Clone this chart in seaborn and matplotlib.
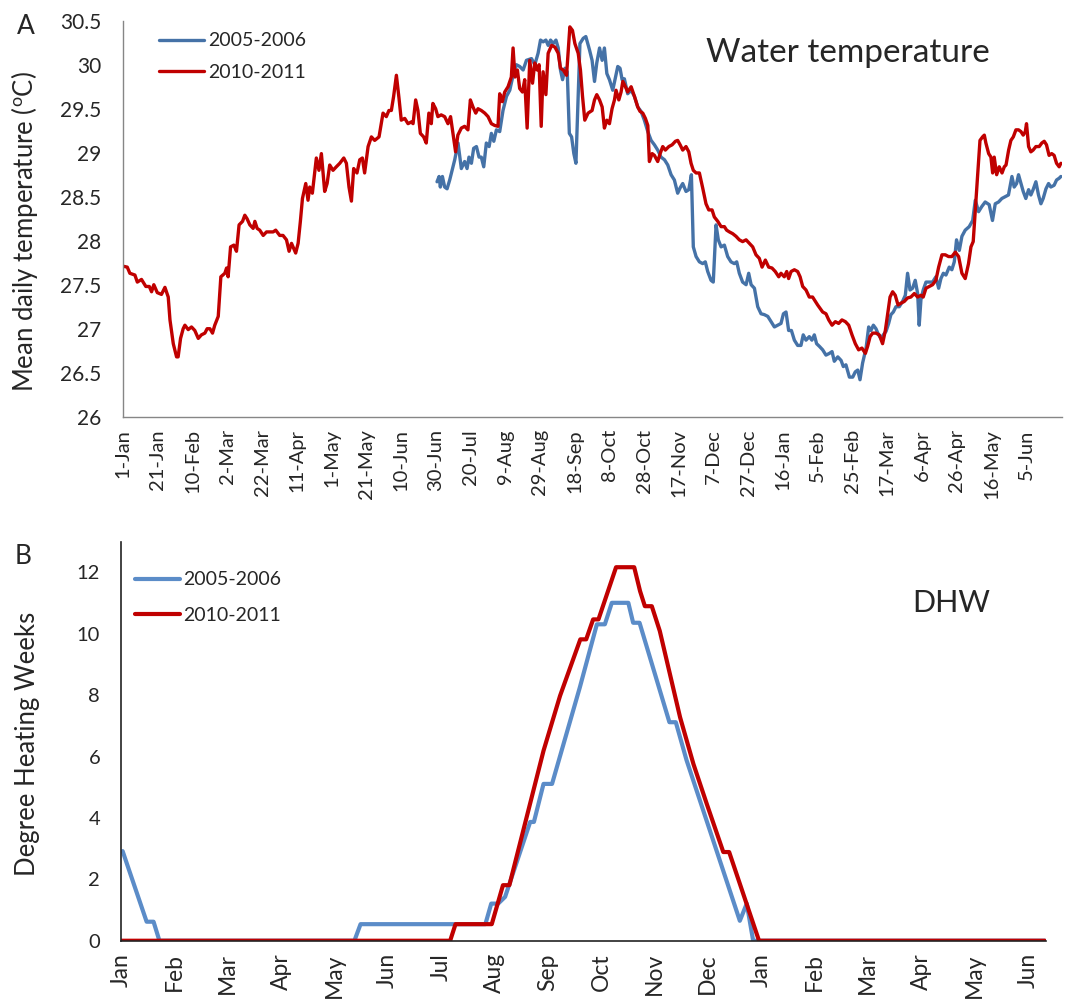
import matplotlib
matplotlib.use('Agg')
import matplotlib.pyplot as plt
import pandas as pd
import seaborn as sns

# Panel A: mean daily water temperature, x = days from 1-Jan
red_day = [0, 2.3, 3.8, 6.7, 8.1, 10.5, 13, 15, 16.3, 17.6, 19.6, 22, 24, 25.9, 26.9, 28.8, 30.7, 31.6,
           33, 34.5, 35.5, 37.4, 39.3, 41.2, 43.2, 45, 47, 48.3, 49.9, 51.4, 52.7, 54.7, 56.2, 58.5,
           59.5, 60.4, 61.8, 63.7, 65.2, 66.7, 68.7, 70, 71.3, 72.9, 74.8, 75.8, 77.1, 78.6, 80.6,
           82.5, 84.4, 86.3, 87.8, 90.1, 92, 94, 95.5, 96.9, 99.3, 100.7, 102, 103.2, 105.1, 106.4,
           107.4, 108.9, 111.2, 112.7, 114.1, 116, 117.4, 118.9, 120.8, 122.7, 124.7, 127, 128.5,
           130, 131.4, 132.7, 134.6, 136.2, 137.7, 139, 141, 142.9, 144.8, 147.3, 149.6, 151.5, 153,
           154.4, 155.7, 157.3, 158.8, 160.1, 162.1, 164, 165.9, 166.9, 168.4, 169.7, 171.1, 173,
           174.5, 176, 177.4, 178.3, 179.9, 181.2, 183.1, 185.1, 187, 188.5, 189.9, 191.4, 192.7,
           194.7, 196.6, 198.5, 199.9, 201.4, 203, 204.3, 206.2, 208.2, 210.1, 212, 213.9, 215.8,
           216.8, 218.3, 219.7, 221.6, 223.5, 224.5, 225.6, 227, 228.3, 229.9, 231.2, 232.6, 234.1,
           235.7, 237, 238.4, 239.5, 240.7, 241.8, 243.4, 244.7, 246.7, 248.6, 250.5, 251.8, 253.4,
           255.3, 257.2, 258.7, 260.1, 262, 263.3, 264.5, 265.8, 267.7, 270, 271.4, 272.7, 274.3,
           275.8, 277.1, 278.5, 280, 281.5, 282.9, 283.8, 285.4, 286.7, 287.7, 289.2, 290.5, 292.5,
           294.4, 296.3, 297.6, 299.2, 300.7, 302.1, 303, 304.6, 305.9, 307.8, 309.2, 310.7, 312.2,
           314.2, 316.1, 318, 319.3, 320.7, 322.2, 324.1, 325.7, 327, 328.3, 329.9, 331.8, 333.7,
           335.6, 337.2, 339.1, 340.4, 342.4, 344.3, 346.2, 347.5, 349.1, 351, 352.9, 354.8, 356.7,
           358.7, 360.6, 362.5, 364.4, 366.3, 367.9, 369.8, 371.7, 373.6, 375.5, 377.5, 378.8,
           380.7, 382.1, 383.2, 384.6, 386.5, 388.4, 389.8, 391.3, 393.2, 395.1, 397, 398.6, 399.9,
           402.8, 404.7, 406.3, 408.2, 410.1, 412, 413.9, 415.9, 417.8, 419.7, 421.6, 423.5, 425.4,
           427.4, 428.7, 430.1, 431.6, 433.5, 435.4, 437.3, 438.9, 440.2, 441.6, 443.1, 444.6,
           446.2, 447.9, 449.8, 451.7, 453.6, 455.6, 457.5, 459.4, 460.7, 462.3, 464.2, 466.1, 468,
           469.6, 471.5, 473.4, 475.3, 477.2, 479.2, 481.1, 483, 484.9, 486.8, 488.2, 489.5, 490.7,
           492, 493.4, 494.9, 495.9, 496.8, 498.4, 499.7, 500.7, 501.6, 503, 504.5, 506.1, 507.4,
           508.4, 509.9, 511.2, 512.6, 514.1, 515.6, 517, 518.3, 519.5, 520.2, 521.4, 522.7, 524,
           525.6, 527.5, 529, 530.4, 531.7, 533.2, 534.7, 536.1, 537.5, 539, 540]
red_temp = [27.71, 27.70, 27.63, 27.61, 27.53, 27.56, 27.48, 27.48, 27.42, 27.50, 27.41, 27.39, 27.47,
            27.36, 27.10, 26.83, 26.68, 26.68, 26.89, 27.00, 27.04, 26.99, 27.02, 26.98, 26.89,
            26.93, 26.95, 27.00, 27.00, 26.95, 27.04, 27.14, 27.59, 27.63, 27.69, 27.59, 27.93,
            27.95, 27.88, 28.18, 28.22, 28.29, 28.25, 28.18, 28.14, 28.22, 28.14, 28.12, 28.06,
            28.10, 28.10, 28.10, 28.12, 28.06, 28.06, 28.01, 27.88, 27.97, 27.86, 27.97, 28.22,
            28.48, 28.65, 28.46, 28.61, 28.54, 28.94, 28.80, 28.99, 28.56, 28.65, 28.86, 28.80,
            28.84, 28.88, 28.94, 28.88, 28.61, 28.45, 28.82, 28.77, 28.92, 28.94, 28.77, 29.07,
            29.18, 29.14, 29.18, 29.45, 29.41, 29.48, 29.48, 29.64, 29.88, 29.62, 29.37, 29.39,
            29.33, 29.35, 29.33, 29.60, 29.48, 29.22, 29.18, 29.11, 29.45, 29.33, 29.56, 29.50,
            29.41, 29.43, 29.41, 29.33, 29.41, 29.22, 29.01, 29.20, 29.28, 29.30, 29.26, 29.60,
            29.52, 29.45, 29.50, 29.48, 29.45, 29.41, 29.33, 29.31, 29.30, 29.67, 29.58, 29.69,
            29.75, 29.86, 30.19, 29.86, 29.94, 29.73, 29.69, 29.83, 29.28, 30.05, 29.79, 30.02,
            29.94, 30.00, 29.30, 29.92, 29.66, 30.13, 30.22, 30.20, 30.13, 29.96, 29.94, 29.88,
            30.43, 30.39, 30.24, 30.13, 29.94, 29.64, 29.37, 29.45, 29.48, 29.60, 29.66, 29.60,
            29.52, 29.28, 29.37, 29.33, 29.50, 29.60, 29.71, 29.60, 29.69, 29.81, 29.75, 29.69,
            29.75, 29.64, 29.52, 29.47, 29.45, 29.39, 29.31, 28.90, 28.99, 28.97, 28.90, 28.99,
            29.07, 29.03, 29.07, 29.09, 29.13, 29.14, 29.09, 29.03, 29.07, 29.01, 28.88, 28.80,
            28.77, 28.77, 28.60, 28.42, 28.35, 28.35, 28.27, 28.22, 28.16, 28.16, 28.12, 28.10,
            28.08, 28.05, 28.01, 27.99, 28.01, 27.97, 27.93, 27.84, 27.80, 27.70, 27.78, 27.70,
            27.69, 27.65, 27.59, 27.63, 27.59, 27.65, 27.57, 27.65, 27.67, 27.65, 27.59, 27.48,
            27.44, 27.36, 27.36, 27.31, 27.27, 27.19, 27.17, 27.10, 27.04, 27.08, 27.06, 27.10,
            27.08, 27.04, 26.93, 26.83, 26.76, 26.78, 26.72, 26.80, 26.91, 26.95, 26.95, 26.93,
            26.83, 26.98, 27.16, 27.36, 27.42, 27.38, 27.27, 27.29, 27.31, 27.35, 27.36, 27.40,
            27.36, 27.38, 27.36, 27.46, 27.48, 27.50, 27.55, 27.70, 27.84, 27.84, 27.82, 27.82,
            27.87, 27.82, 27.63, 27.57, 27.74, 27.93, 27.99, 28.35, 28.73, 29.14, 29.18, 29.20,
            29.11, 28.99, 28.95, 28.77, 28.95, 28.75, 28.84, 28.77, 28.84, 28.86, 29.03, 29.14,
            29.18, 29.26, 29.26, 29.24, 29.20, 29.24, 29.33, 29.07, 29.01, 29.03, 29.07, 29.07,
            29.11, 29.13, 29.09, 28.97, 28.99, 28.97, 28.88, 28.84, 28.88]

blue_day = [180.7, 181.9, 182.6, 183.8, 185.1, 186.5, 188, 189, 190.9, 192.8, 194.7, 196.6, 198,
            199.1, 200.5, 201.8, 203.4, 204.9, 206.2, 207.6, 209.1, 210.7, 212, 213.4, 214.9,
            216.8, 218.7, 220.7, 222.6, 224.5, 226.4, 228.3, 230.3, 232.2, 235.1, 237, 238.9,
            240.3, 241.8, 243.4, 244.7, 246.1, 247.6, 249.2, 250.5, 251.8, 253, 254.4, 255.7,
            256.9, 258.2, 259.5, 260.7, 262, 263, 264.9, 266.4, 268.5, 270, 271.4, 272.7, 274.3,
            275.8, 277.1, 278.5, 280, 281.9, 283.5, 284.8, 286.1, 287.3, 288.6, 290.5, 292.5,
            294.4, 296.3, 298.2, 300.1, 302.1, 304, 305.9, 307.8, 309.7, 311.7, 313.6, 315.5,
            317.4, 319.3, 320.7, 322.2, 324.1, 325.7, 327.2, 328.3, 329.9, 331.8, 333.7, 335.2,
            336.6, 338.5, 339.8, 341.4, 342.7, 344.3, 346.2, 348.1, 350, 351.9, 353.3, 354.8,
            356.7, 358.7, 360.2, 361.6, 363.5, 365.4, 367.3, 369.2, 371.2, 373.1, 375, 376.9,
            378.8, 380.2, 381.7, 383.2, 384.8, 386.5, 388.4, 390.3, 391.6, 393.2, 395.1, 396.6,
            398, 399.3, 400.9, 402.8, 404.7, 406.7, 408.2, 409.5, 411.5, 413.4, 414.7, 416.2,
            418.2, 420.1, 421.6, 423, 424.3, 425.8, 427.8, 429.3, 430.6, 432, 433.5, 435, 436.4,
            437.7, 439.3, 440.8, 442.1, 443.5, 445, 446.9, 448.8, 450.4, 451.7, 453.1, 454.6,
            456.1, 457.5, 458.4, 459.4, 460.7, 462.3, 464.2, 466.1, 468, 469.6, 470.9, 472.3,
            473.8, 475.7, 477.2, 478.6, 479.9, 481.5, 483, 484.9, 487.2, 489.2, 490.7, 492.6,
            494.5, 496.4, 498.7, 500.6, 502.2, 504.1, 506, 507.9, 509.8, 511.8, 513.1, 514.5,
            515.6, 517, 518.3, 519.8, 521.4, 522.7, 524, 525.6, 527.1, 528.5, 529.8, 531.4,
            532.9, 534.2, 536.1, 537.5, 539, 540]
blue_temp = [28.67, 28.73, 28.61, 28.73, 28.61, 28.59, 28.69, 28.77, 28.92, 29.11, 28.82, 28.90,
             28.82, 28.95, 28.88, 29.05, 29.07, 28.95, 28.95, 28.84, 29.11, 29.07, 29.22, 29.13,
             29.26, 29.24, 29.48, 29.64, 29.71, 29.88, 30.00, 29.98, 29.94, 30.05, 30.07, 30.00,
             30.13, 30.28, 30.26, 30.28, 30.22, 30.28, 30.24, 30.28, 30.19, 29.94, 29.83, 29.96,
             29.92, 29.22, 29.18, 28.99, 28.88, 29.64, 30.24, 30.30, 30.32, 30.17, 30.05, 29.81,
             30.02, 30.19, 30.05, 30.19, 29.90, 29.83, 29.71, 29.86, 29.98, 29.96, 29.83, 29.84,
             29.67, 29.71, 29.64, 29.52, 29.47, 29.37, 29.24, 29.14, 29.09, 29.03, 28.95, 28.92,
             28.86, 28.75, 28.69, 28.54, 28.60, 28.65, 28.56, 28.58, 28.75, 27.93, 27.82, 27.76,
             27.74, 27.76, 27.65, 27.55, 27.53, 28.18, 28.01, 27.93, 27.95, 27.82, 27.76, 27.74,
             27.76, 27.63, 27.53, 27.50, 27.63, 27.50, 27.46, 27.25, 27.17, 27.16, 27.14, 27.08,
             27.02, 27.04, 27.06, 27.17, 27.19, 26.98, 26.98, 26.87, 26.81, 26.81, 26.93, 26.87,
             26.91, 26.87, 26.93, 26.83, 26.80, 26.76, 26.70, 26.72, 26.74, 26.63, 26.68, 26.64,
             26.57, 26.59, 26.45, 26.45, 26.51, 26.53, 26.42, 26.61, 26.78, 27.02, 26.98, 27.04,
             27.00, 26.93, 26.89, 26.93, 26.97, 27.06, 27.16, 27.19, 27.25, 27.25, 27.31, 27.38,
             27.63, 27.44, 27.46, 27.55, 27.40, 27.04, 27.33, 27.44, 27.53, 27.53, 27.53, 27.59,
             27.46, 27.57, 27.63, 27.61, 27.70, 27.67, 27.76, 28.01, 27.89, 28.05, 28.12, 28.16,
             28.23, 28.46, 28.33, 28.39, 28.44, 28.41, 28.23, 28.42, 28.44, 28.48, 28.50, 28.52,
             28.73, 28.61, 28.65, 28.75, 28.65, 28.56, 28.48, 28.58, 28.52, 28.58, 28.67, 28.52,
             28.42, 28.48, 28.59, 28.65, 28.61, 28.63, 28.69, 28.71, 28.73]

temp_labels = ['1-Jan', '21-Jan', '10-Feb', '2-Mar', '22-Mar', '11-Apr', '1-May', '21-May',
               '10-Jun', '30-Jun', '20-Jul', '9-Aug', '29-Aug', '18-Sep', '8-Oct', '28-Oct',
               '17-Nov', '7-Dec', '27-Dec', '16-Jan', '5-Feb', '25-Feb', '17-Mar', '6-Apr',
               '26-Apr', '16-May', '5-Jun']

# Panel B: degree heating weeks, x = months from Jan
dhw_blue_month = [0.03, 0.48, 0.61, 0.72, 4.375, 4.49, 6.83, 6.94, 7.07, 7.2, 7.67, 7.74, 7.92,
                  8.08, 8.6, 8.92, 9.07, 9.2, 9.51, 9.6, 9.72, 10.28, 10.4, 10.6, 11.6, 11.73,
                  11.85, 17.32]
dhw_blue = [2.92, 0.62, 0.62, 0, 0, 0.54, 0.54, 1.21, 1.21, 1.43, 3.87, 3.87, 5.11, 5.11, 8.25,
            10.31, 10.31, 11.01, 11.01, 10.36, 10.36, 7.12, 7.12, 5.89, 0.65, 1.21, 0, 0]
dhw_red_month = [0, 6.17, 6.27, 6.95, 7.16, 7.28, 7.92, 8.23, 8.61, 8.72, 8.85, 8.95, 9.28, 9.62,
                 9.73, 9.82, 9.95, 10.1, 10.48, 10.73, 10.98, 11.29, 11.4, 11.96, 17.32]
dhw_red = [0, 0, 0.54, 0.54, 1.81, 1.81, 6.19, 7.98, 9.82, 9.82, 10.47, 10.47, 12.17, 12.17,
           11.39, 10.9, 10.9, 10.09, 7.28, 5.76, 4.46, 2.89, 2.89, 0, 0]
month_labels = ['Jan', 'Feb', 'Mar', 'Apr', 'May', 'Jun', 'Jul', 'Aug', 'Sep', 'Oct', 'Nov',
                'Dec', 'Jan', 'Feb', 'Mar', 'Apr', 'May', 'Jun']

sns.set_style('white')
plt.rcParams['font.family'] = ['Lato', 'DejaVu Sans']

RED = '#C00000'
BLUE_A = '#4572A7'
BLUE_B = '#5B8CC8'
GREY = '#868686'

fig = plt.figure(figsize=(10.7, 10.01), dpi=100)

# ---- panel A
ax1 = fig.add_axes([0.1152, 0.5837, 0.8771, 0.3956])
blue_a = pd.DataFrame({'day': blue_day, 'temp': blue_temp})
red_a = pd.DataFrame({'day': red_day, 'temp': red_temp})
sns.lineplot(data=blue_a, x='day', y='temp', ax=ax1, color=BLUE_A, linewidth=2.4,
             label='2005-2006')
sns.lineplot(data=red_a, x='day', y='temp', ax=ax1, color=RED, linewidth=2.4,
             label='2010-2011')
ax1.set_xlim(0, 540.5)
ax1.set_ylim(26, 30.5)
ax1.set_yticks([26, 26.5, 27, 27.5, 28, 28.5, 29, 29.5, 30, 30.5])
ax1.set_yticklabels(['26', '26.5', '27', '27.5', '28', '28.5', '29', '29.5', '30', '30.5'])
ax1.set_xticks([20 * i for i in range(len(temp_labels))])
ax1.set_xticklabels(temp_labels, rotation=90)
ax1.set_xticks([14 * i for i in range(39)], minor=True)
ax1.tick_params(axis='x', which='major', length=0, pad=9, labelsize=14.5)
ax1.tick_params(axis='x', which='minor', length=6, width=1, color=GREY)
ax1.tick_params(axis='y', length=6, width=1, color=GREY, labelsize=15, pad=10)
for s in ['top', 'right']:
    ax1.spines[s].set_visible(False)
for s in ['left', 'bottom']:
    ax1.spines[s].set_color(GREY)
    ax1.spines[s].set_linewidth(1)
ax1.set_xlabel('')
ax1.set_ylabel('Mean daily temperature ($\\mathregular{^o}$C)', fontsize=18.5)
ax1.yaxis.set_label_coords(-0.089, 0.4664)
ax1.text(0.9236, 0.918, 'Water temperature', transform=ax1.transAxes, fontsize=24,
         ha='right', va='center')
ax1.legend(loc='upper left', bbox_to_anchor=(0.03, 0.99), frameon=False, fontsize=14,
           handlelength=2.3, handletextpad=0.2, labelspacing=0.75, borderaxespad=0)

# ---- panel B
ax2 = fig.add_axes([0.1131, 0.0602, 0.8645, 0.3986])
blue_b = pd.DataFrame({'month': dhw_blue_month, 'dhw': dhw_blue})
red_b = pd.DataFrame({'month': dhw_red_month, 'dhw': dhw_red})
sns.lineplot(data=blue_b, x='month', y='dhw', ax=ax2, color=BLUE_B, linewidth=3,
             label='2005-2006')
sns.lineplot(data=red_b, x='month', y='dhw', ax=ax2, color=RED, linewidth=3,
             label='2010-2011')
ax2.set_xlim(0, 17.34)
ax2.set_ylim(0, 13)
ax2.set_yticks([0, 2, 4, 6, 8, 10, 12])
ax2.set_xticks(range(len(month_labels)))
ax2.set_xticklabels(month_labels, rotation=90)
ax2.tick_params(axis='both', length=6, width=1.2, color='#222222')
ax2.tick_params(axis='y', labelsize=14.5, pad=9)
ax2.tick_params(axis='x', pad=3, labelsize=16.5)
for s in ['top', 'right']:
    ax2.spines[s].set_visible(False)
for s in ['left', 'bottom']:
    ax2.spines[s].set_color('#222222')
    ax2.spines[s].set_linewidth(1.2)
ax2.set_xlabel('')
ax2.set_ylabel('Degree Heating Weeks', fontsize=18.5)
ax2.yaxis.set_label_coords(-0.088, 0.493)
ax2.text(0.9395, 0.846, 'DHW', transform=ax2.transAxes, fontsize=22,
         ha='right', va='center')
ax2.legend(loc='upper left', bbox_to_anchor=(0.0066, 0.945), frameon=False, fontsize=14,
           handlelength=2.3, handletextpad=0.2, labelspacing=0.95, borderaxespad=0)

fig.text(0.024, 0.974, 'A', fontsize=19, ha='center', va='center')
fig.text(0.0215, 0.4436, 'B', fontsize=19, ha='center', va='center')

fig.savefig('out.png', dpi=100)
